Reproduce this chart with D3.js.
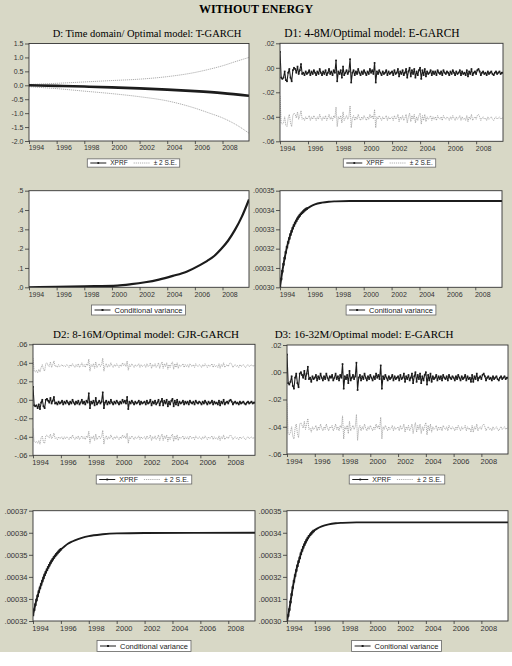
<!DOCTYPE html>
<html>
<head>
<meta charset="utf-8">
<script src="https://cdn.jsdelivr.net/npm/d3@7"></script>
<style>
body { margin: 0; background: #fff; }
svg { display: block; }
</style>
</head>
<body>
<script>
// monthly sample 1994M01 .. 2009M12
const firstObs = 1994;
const lastObs = 2009 + 11 / 12;
const yearTicks = [1994, 1996, 1998, 2000, 2002, 2004, 2006, 2008];

// D: time domain forecast (smooth), dates in years
const dXprfDates = [1994, 1996, 1998, 2000, 2002, 2004, 2006, 2008, 2009.917];
const dXprf = [0, -0.02, -0.045, -0.075, -0.11, -0.155, -0.21, -0.28, -0.375];
const dBandDates = [1994, 1996, 1998, 2000, 2002, 2004, 2006, 2007, 2008, 2009, 2009.917];
const dUpper = [0.03, 0.07, 0.12, 0.17, 0.22, 0.31, 0.46, 0.57, 0.70, 0.86, 1.0];
const dLower = [-0.05, -0.12, -0.21, -0.30, -0.41, -0.56, -0.82, -0.99, -1.17, -1.42, -1.72];
const dCvDates = [1994, 1996, 1998, 2000.4, 2001.4, 2002.4, 2003.4, 2004.4, 2005.4, 2006.4, 2006.9, 2007.4, 2007.9, 2008.4, 2008.9, 2009.4, 2009.917];
const dCv = [0.0002, 0.002, 0.005, 0.009, 0.016, 0.026, 0.040, 0.059, 0.081, 0.116, 0.137, 0.162, 0.198, 0.241, 0.297, 0.366, 0.455];

// D1, D2, D3 forecasts: monthly values in thousandths
const d1Xprf = [
  13, -8, -9, -8, -3, -10, -11, -4, -1, -8, -11, -2,
  0, -1, -4, 1, -5, -2, 3, -5, -4, -6, -3, -5,
  -4, -2, -6, -3, -5, -2, -4, -6, -3, -5, -1, -4,
  -6, -3, -5, -2, -6, -4, -1, -5, -3, -6, -2, -4,
  6, -11, -3, -5, -2, -8, 1, -6, -4, -2, -5, -3,
  7, -12, -4, -2, -6, -3, -5, -1, -4, -6, -3, -5,
  -2, -4, -6, -3, -5, -1, -4, -2, -5, 4, -12, -3,
  -5, -2, -4, -6, -3, -5, -4, -2, -6, -3, -5, -4,
  -3, -6, -2, -5, -4, -1, -7, -3, -5, -2, -6, -4,
  -1, -8, -3, 0, -7, -2, -5, -1, -8, -3, -6, -2,
  0, -9, -2, -6, -1, -7, -3, -5, -4, -2, -6, -3,
  -5, -3, -6, -2, -4, -5, -3, -6, -2, -4, -5, -3,
  -4, -6, -3, -5, -2, -4, -6, -3, -5, -4, -2, -6,
  -3, -5, -4, -6, -2, -7, -3, -5, -1, -6, -4, -3,
  -5, -2, -1, -3, -6, -4, -3, -5, -4, -6, -3, -5,
  -4, -3, -5, -6, -4, -3, -5, -4, -3, -5, -4, -4
];
const d1Lower = [
  -23, -45, -46, -45, -40, -47, -48, -41, -38, -45, -48, -39,
  -37, -38, -41, -36, -42, -39, -35, -42, -41, -43, -40, -42,
  -41, -39, -43, -40, -42, -39, -41, -43, -40, -42, -38, -41,
  -43, -40, -42, -39, -43, -41, -38, -42, -40, -43, -39, -41,
  -32, -48, -40, -42, -39, -45, -36, -43, -41, -39, -42, -40,
  -31, -49, -41, -39, -43, -40, -42, -38, -41, -43, -40, -42,
  -39, -41, -43, -40, -42, -38, -41, -39, -42, -34, -49, -40,
  -42, -39, -41, -43, -40, -42, -41, -39, -43, -40, -42, -41,
  -40, -43, -39, -42, -41, -38, -44, -40, -42, -39, -43, -41,
  -38, -45, -40, -37, -44, -39, -42, -38, -45, -40, -43, -39,
  -37, -46, -39, -43, -38, -44, -40, -42, -41, -39, -43, -40,
  -42, -40, -43, -39, -41, -42, -40, -43, -39, -41, -42, -40,
  -41, -43, -40, -42, -39, -41, -43, -40, -42, -41, -39, -43,
  -40, -42, -41, -43, -39, -44, -40, -42, -38, -43, -41, -40,
  -42, -39, -38, -40, -43, -41, -40, -42, -41, -43, -40, -42,
  -41, -40, -42, -43, -41, -40, -42, -41, -40, -42, -41, -41
];
const d2Xprf = [
  14, -6, -7, -6, -9, -5, -10, -3, 0, -7, -9, 0,
  1, -1, -3, 2, -4, -1, 3, -4, -3, -5, -2, -4,
  -3, -1, -5, -2, -4, -1, -3, -5, -2, -4, 0, -3,
  -5, -2, -4, -1, -5, -3, 0, -4, -2, -5, -1, -3,
  7, -9, -2, -4, -1, -6, 2, -5, -3, -1, -4, -2,
  8, -9, -3, -1, -5, -2, -4, 0, -3, -5, -2, -4,
  -1, -3, -5, -2, -4, 0, -3, -1, -4, 3, -10, -2,
  -4, -1, -3, -5, -2, -4, -3, -1, -5, -2, -4, -3,
  -2, -5, -1, -4, -3, 0, -6, -2, -4, -1, -5, -3,
  0, -6, -2, 1, -6, -1, -4, 0, -7, -2, -5, -1,
  1, -7, -1, -5, 0, -6, -2, -4, -3, -1, -5, -2,
  -4, -2, -5, -1, -3, -4, -2, -5, -1, -3, -4, -2,
  -3, -5, -2, -4, -1, -3, -5, -2, -4, -3, -1, -5,
  -2, -4, -3, -5, -1, -6, -2, -4, 0, -5, -3, -2,
  -4, -1, 0, -2, -5, -3, -2, -4, -3, -5, -2, -4,
  -3, -2, -4, -5, -3, -2, -4, -3, -2, -4, -3, -3
];
const d2Upper = [
  45, 31, 30, 32, 29, 33, 30, 35, 38, 33, 31, 39,
  40, 37, 36, 41, 35, 38, 42, 36, 37, 35, 38, 36,
  37, 38, 36, 37, 36, 38, 37, 35, 38, 36, 39, 37,
  35, 38, 36, 39, 35, 37, 40, 36, 38, 35, 39, 37,
  44, 31, 38, 36, 39, 34, 41, 35, 37, 39, 36, 38,
  45, 31, 37, 39, 35, 38, 36, 40, 37, 35, 38, 36,
  39, 37, 35, 38, 36, 40, 37, 39, 36, 42, 32, 38,
  36, 39, 37, 35, 38, 36, 37, 39, 35, 38, 36, 37,
  38, 35, 39, 36, 37, 40, 34, 38, 36, 39, 35, 37,
  40, 34, 38, 41, 34, 39, 36, 40, 33, 38, 35, 39,
  41, 33, 39, 35, 40, 34, 38, 36, 37, 39, 35, 38,
  36, 38, 35, 39, 37, 36, 38, 35, 39, 37, 36, 38,
  37, 35, 38, 36, 39, 37, 35, 38, 36, 37, 39, 35,
  38, 36, 37, 35, 39, 34, 38, 36, 40, 35, 37, 38,
  36, 39, 40, 38, 35, 37, 38, 36, 37, 35, 38, 36,
  37, 38, 36, 35, 37, 38, 36, 37, 38, 36, 37, 37
];
const d2Lower = [
  -31, -45, -46, -45, -47, -44, -48, -41, -39, -46, -47, -39,
  -38, -40, -41, -37, -42, -40, -36, -42, -41, -43, -40, -42,
  -41, -40, -43, -40, -42, -40, -41, -43, -40, -42, -38, -41,
  -43, -40, -42, -39, -43, -41, -39, -42, -40, -43, -39, -41,
  -34, -47, -40, -42, -39, -44, -37, -43, -41, -39, -42, -40,
  -33, -48, -41, -39, -43, -40, -42, -38, -41, -43, -40, -42,
  -39, -41, -43, -40, -42, -38, -41, -39, -42, -36, -47, -40,
  -42, -39, -41, -43, -40, -42, -41, -39, -43, -40, -42, -41,
  -40, -43, -39, -42, -41, -38, -44, -40, -42, -39, -43, -41,
  -38, -44, -40, -37, -44, -39, -42, -38, -45, -40, -43, -39,
  -37, -45, -39, -43, -38, -44, -40, -42, -41, -39, -43, -40,
  -42, -40, -43, -39, -41, -42, -40, -43, -39, -41, -42, -40,
  -41, -43, -40, -42, -39, -41, -43, -40, -42, -41, -39, -43,
  -40, -42, -41, -43, -39, -44, -40, -42, -38, -43, -41, -40,
  -42, -39, -38, -40, -43, -41, -40, -42, -41, -43, -40, -42,
  -41, -40, -42, -43, -41, -40, -42, -41, -40, -42, -41, -41
];
const d3Xprf = [
  13, -8, -9, -7, -3, -10, -12, -4, -1, -8, -11, -1,
  0, -2, -4, 1, -5, -1, 4, -5, -4, -7, -3, -5,
  -4, -2, -6, -3, -5, -1, -4, -6, -3, -5, -1, -4,
  -6, -3, -4, -2, -6, -4, -1, -5, -3, -6, -2, -4,
  6, -12, -3, -5, -2, -8, 1, -6, -4, -2, -5, -3,
  7, -13, -4, -2, -6, -3, -5, -1, -4, -6, -3, -5,
  -2, -4, -6, -3, -5, -1, -4, -2, -5, 5, -12, -3,
  -5, -2, -4, -6, -3, -5, -4, -2, -6, -3, -5, -4,
  -3, -6, -2, -5, -4, -1, -7, -3, -5, -2, -6, -4,
  -1, -8, -3, 0, -7, -2, -5, -1, -8, -3, -6, -2,
  0, -9, -2, -6, -1, -7, -3, -5, -4, -2, -6, -3,
  -5, -3, -6, -2, -4, -5, -3, -6, -2, -4, -5, -3,
  -4, -6, -3, -5, -2, -4, -6, -3, -5, -4, -2, -6,
  -3, -5, -4, -7, -2, -7, -3, -5, -1, -6, -4, -3,
  -5, -2, -1, -3, -6, -4, -3, -5, -4, -6, -3, -5,
  -4, -3, -5, -6, -4, -3, -5, -4, -3, -5, -4, -4
];
const d3Lower = [
  -23, -45, -46, -44, -40, -47, -49, -41, -38, -45, -48, -38,
  -37, -39, -41, -36, -42, -38, -34, -42, -41, -44, -40, -42,
  -41, -39, -43, -40, -42, -38, -41, -43, -40, -42, -38, -41,
  -43, -40, -41, -39, -43, -41, -38, -42, -40, -43, -39, -41,
  -32, -49, -40, -42, -39, -45, -36, -43, -41, -39, -42, -40,
  -31, -50, -41, -39, -43, -40, -42, -38, -41, -43, -40, -42,
  -39, -41, -43, -40, -42, -38, -41, -39, -42, -33, -49, -40,
  -42, -39, -41, -43, -40, -42, -41, -39, -43, -40, -42, -41,
  -40, -43, -39, -42, -41, -38, -44, -40, -42, -39, -43, -41,
  -38, -45, -40, -37, -44, -39, -42, -38, -45, -40, -43, -39,
  -37, -46, -39, -43, -38, -44, -40, -42, -41, -39, -43, -40,
  -42, -40, -43, -39, -41, -42, -40, -43, -39, -41, -42, -40,
  -41, -43, -40, -42, -39, -41, -43, -40, -42, -41, -39, -43,
  -40, -42, -41, -44, -39, -44, -40, -42, -38, -43, -41, -40,
  -42, -39, -38, -40, -43, -41, -40, -42, -41, -43, -40, -42,
  -41, -40, -42, -43, -41, -40, -42, -41, -40, -42, -41, -41
];

// conditional variances: month index from 1994M01, values in 1e-6
const cvMonths = [0, 1, 2, 3, 4, 5, 6, 7, 8, 9, 10, 11, 12, 13, 14, 15, 16, 17, 18, 19, 20, 21, 22, 23, 26, 30, 36, 42, 48, 60, 84, 120, 191];
const cvD1 = [300.0, 304.3, 308.3, 311.9, 315.1, 318.1, 320.8, 323.2, 325.3, 327.3, 329.0, 330.6, 332.0, 333.3, 334.4, 335.5, 336.4, 337.2, 338.0, 338.6, 339.2, 339.8, 340.3, 340.7, 341.8, 342.9, 343.8, 344.3, 344.5, 344.7, 344.7, 344.7, 344.7];
const cvD3 = [300.0, 302.5, 305.2, 308.6, 312.0, 315.2, 318.0, 320.6, 322.9, 325.0, 326.9, 328.6, 330.5, 332.0, 333.4, 334.6, 335.7, 336.7, 337.6, 338.4, 339.1, 339.7, 340.3, 340.8, 341.9, 342.9, 343.8, 344.3, 344.5, 344.7, 344.7, 344.7, 344.7];
const cvD2Months = [0, 1, 2, 3, 4, 5, 6, 7, 8, 9, 10, 11, 12, 13, 14, 15, 16, 17, 18, 19, 20, 21, 22, 23, 24, 27, 30, 33, 36, 42, 48, 60, 72, 96, 191];
const cvD2 = [322.7, 325.1, 327.4, 329.5, 331.4, 333.3, 335.0, 336.6, 338.1, 339.5, 340.9, 342.1, 343.2, 344.3, 345.3, 346.3, 347.2, 348.0, 348.8, 349.5, 350.2, 350.8, 351.4, 352.0, 352.5, 353.8, 355.0, 355.9, 356.6, 357.7, 358.5, 359.3, 359.7, 359.9, 360.0];

const yTicksD = [-2, -1.5, -1, -0.5, 0, 0.5, 1, 1.5];
const yTicksNarrow = [-0.06, -0.04, -0.02, 0, 0.02];
const yTicksWide = [-0.06, -0.04, -0.02, 0, 0.02, 0.04, 0.06];
const yTicksCvD = [0, 0.1, 0.2, 0.3, 0.4, 0.5];
const yTicksCv30 = [0.0003, 0.00031, 0.00032, 0.00033, 0.00034, 0.00035];
const yTicksCv32 = [0.00032, 0.00033, 0.00034, 0.00035, 0.00036, 0.00037];

const serif = 'Liberation Serif, Times New Roman, serif';
const sans = 'Liberation Sans, Arial, sans-serif';
const lineColor = '#1c1c1c';
const bandColor = '#9a9a9a';

const svg = d3.select('body').append('svg')
    .attr('width', 512)
    .attr('height', 666);

svg.append('rect')
    .attr('width', 512)
    .attr('height', 652)
    .attr('fill', '#d8d8c6');

svg.append('text')
    .attr('x', 256)
    .attr('y', 13)
    .attr('text-anchor', 'middle')
    .attr('font-family', serif)
    .attr('font-weight', 'bold')
    .attr('font-size', 12)
    .text('WITHOUT ENERGY');

const monthly = (vals, k) => vals.map((v, i) => ({t: firstObs + i / 12, v: v * k}));
const dated = (dates, vals, k) => vals.map((v, i) => ({t: dates[i], v: v * k}));
const fromMonths = (months, vals, k) => vals.map((v, i) => ({t: firstObs + months[i] / 12, v: v * k, monthly: months[i] < 26}));

const fmtPlain = d => d.toFixed(1);
const fmtDot = digits => d => d.toFixed(digits).replace('0.', '.');

let clipCount = 0;

function panel(p) {
    const x = d3.scaleLinear().domain([firstObs, lastObs]).range([p.x0, p.x1]);
    const y = d3.scaleLinear().domain(p.yDomain).range([p.y1, p.y0]);
    const g = svg.append('g');

    g.append('rect')
        .attr('x', p.x0).attr('y', p.y0)
        .attr('width', p.x1 - p.x0).attr('height', p.y1 - p.y0)
        .attr('fill', '#fff');

    const id = 'clip' + (clipCount++);
    g.append('clipPath').attr('id', id)
        .append('rect')
        .attr('x', p.x0).attr('y', p.y0)
        .attr('width', p.x1 - p.x0).attr('height', p.y1 - p.y0);
    const body = g.append('g').attr('clip-path', 'url(#' + id + ')');

    p.series.forEach(s => {
        const line = d3.line().x(d => x(d.t)).y(d => y(d.v));
        if (s.smooth) line.curve(d3.curveMonotoneX);
        body.append('path')
            .datum(s.data)
            .attr('d', line)
            .attr('fill', 'none')
            .attr('stroke', s.color)
            .attr('stroke-width', s.width)
            .attr('stroke-linejoin', 'round')
            .attr('stroke-dasharray', s.dash || null);
        if (s.marker) {
            body.selectAll(null)
                .data(s.data.filter(d => d.monthly !== false))
                .join('rect')
                .attr('x', d => x(d.t) - s.marker / 2)
                .attr('y', d => y(d.v) - s.marker / 2)
                .attr('width', s.marker)
                .attr('height', s.marker)
                .attr('fill', s.color);
        }
    });

    g.append('rect')
        .attr('x', p.x0).attr('y', p.y0)
        .attr('width', p.x1 - p.x0).attr('height', p.y1 - p.y0)
        .attr('fill', 'none')
        .attr('stroke', '#333')
        .attr('stroke-width', 0.9);

    const yAxis = d3.axisLeft(y)
        .tickValues(p.yTicks)
        .tickSize(4)
        .tickPadding(1.5)
        .tickFormat(p.fmt);
    const ya = g.append('g')
        .attr('transform', 'translate(' + p.x0 + ',0)')
        .call(yAxis);
    ya.select('.domain').remove();

    const xAxis = d3.axisBottom(x)
        .tickValues(yearTicks)
        .tickSize(3)
        .tickPadding(1.5)
        .tickFormat(d3.format('d'));
    const xa = g.append('g')
        .attr('transform', 'translate(0,' + p.y1 + ')')
        .call(xAxis);
    xa.select('.domain').remove();
    xa.selectAll('text').attr('dx', (x(1995) - x(1994)) * 0.5);

    [ya, xa].forEach(a => {
        a.attr('font-family', sans).attr('font-size', p.tickFont);
        a.selectAll('line').attr('stroke', '#333').attr('stroke-width', 0.8);
        a.selectAll('text').attr('fill', '#333');
    });

    if (p.title) {
        g.append('text')
            .attr('x', p.titleX)
            .attr('y', p.titleY)
            .attr('text-anchor', 'middle')
            .attr('font-family', serif)
            .attr('font-size', p.titleSize)
            .text(p.title);
    }

    legend(p.legend);
}

function legend(l) {
    const g = svg.append('g');
    const box = g.append('rect')
        .attr('fill', '#fff')
        .attr('stroke', '#666')
        .attr('stroke-width', 0.8);
    const inner = g.append('g');
    let cur = 3;
    l.items.forEach((it, i) => {
        if (i > 0) cur += 6;
        inner.append('line')
            .attr('x1', cur).attr('x2', cur + 16)
            .attr('y1', 0).attr('y2', 0)
            .attr('stroke', it.color)
            .attr('stroke-width', it.width)
            .attr('stroke-dasharray', it.dash || null);
        if (it.marker) {
            inner.append('rect')
                .attr('x', cur + 8 - it.marker / 2).attr('y', -it.marker / 2)
                .attr('width', it.marker).attr('height', it.marker)
                .attr('fill', it.color);
        }
        cur += 20;
        const t = inner.append('text')
            .attr('x', cur)
            .attr('y', l.font * 0.35)
            .attr('font-family', sans)
            .attr('font-size', l.font)
            .attr('fill', '#222')
            .text(it.label);
        cur += t.node().getComputedTextLength();
    });
    cur += 3;
    const left = l.cx - cur / 2;
    inner.attr('transform', 'translate(' + left + ',' + l.cy + ')');
    box.attr('x', left).attr('y', l.cy - l.h / 2).attr('width', cur).attr('height', l.h);
}

const xprfItems = [
    {label: 'XPRF', color: lineColor, width: 1, marker: 1.8},
    {label: '\u00b1 2 S.E.', color: bandColor, width: 0.8, dash: '1.2,0.9'}
];
const cvItem = label => [{label: label, color: lineColor, width: 1, marker: 2}];

const xprfSeries = (vals, k) => ({data: monthly(vals, k), color: lineColor, width: 1.1, marker: 1.7});
const bandSeries = (vals, k) => ({data: monthly(vals, k), color: bandColor, width: 0.8, dash: '1.2,0.8'});
const cvSeries = data => ({data: data, color: lineColor, width: 1.9, marker: 2.4, smooth: true});

// row 1
panel({
    x0: 29, x1: 249, y0: 43.5, y1: 141,
    yDomain: [-2, 1.5], yTicks: yTicksD, fmt: fmtPlain, tickFont: 7,
    title: 'D: Time domain/ Optimal model: T-GARCH', titleX: 147, titleY: 37, titleSize: 10.5,
    series: [
        {data: dated(dBandDates, dUpper, 1), color: bandColor, width: 0.8, dash: '1.2,0.8', smooth: true},
        {data: dated(dBandDates, dLower, 1), color: bandColor, width: 0.8, dash: '1.2,0.8', smooth: true},
        {data: dated(dXprfDates, dXprf, 1), color: lineColor, width: 2.6, smooth: true}
    ],
    legend: {cx: 133.5, cy: 163, h: 8.3, font: 6.5, items: xprfItems}
});
panel({
    x0: 280, x1: 503, y0: 43.3, y1: 141.3,
    yDomain: [-0.06, 0.02], yTicks: yTicksNarrow, fmt: fmtDot(2), tickFont: 7,
    title: 'D1: 4-8M/Optimal model: E-GARCH', titleX: 372, titleY: 37.3, titleSize: 11.5,
    series: [bandSeries(d1Lower, 0.001), xprfSeries(d1Xprf, 0.001)],
    legend: {cx: 389.5, cy: 163, h: 8.3, font: 6.5, items: xprfItems}
});

// row 2
panel({
    x0: 29, x1: 249, y0: 190.7, y1: 287.3,
    yDomain: [0, 0.5], yTicks: yTicksCvD, fmt: fmtDot(1), tickFont: 7,
    series: [{data: dated(dCvDates, dCv, 1), color: lineColor, width: 2.2, smooth: true}],
    legend: {cx: 138.5, cy: 310, h: 10, font: 7.5, items: cvItem('Conditional variance')}
});
panel({
    x0: 280, x1: 502, y0: 190.7, y1: 287.3,
    yDomain: [0.0003, 0.00035], yTicks: yTicksCv30, fmt: fmtDot(5), tickFont: 7,
    series: [cvSeries(fromMonths(cvMonths, cvD1, 1e-6))],
    legend: {cx: 391, cy: 310, h: 10, font: 7.5, items: cvItem('Conitional variance')}
});

// row 3
panel({
    x0: 33, x1: 255, y0: 344.3, y1: 455.3,
    yDomain: [-0.06, 0.06], yTicks: yTicksWide, fmt: fmtDot(2), tickFont: 7.5,
    title: 'D2: 8-16M/Optimal model: GJR-GARCH', titleX: 146, titleY: 337.5, titleSize: 11,
    series: [bandSeries(d2Upper, 0.001), bandSeries(d2Lower, 0.001), xprfSeries(d2Xprf, 0.001)],
    legend: {cx: 144, cy: 479.5, h: 9, font: 7, items: xprfItems}
});
panel({
    x0: 287, x1: 508, y0: 345, y1: 454,
    yDomain: [-0.06, 0.02], yTicks: yTicksNarrow, fmt: fmtDot(2), tickFont: 7.5,
    title: 'D3: 16-32M/Optimal model: E-GARCH', titleX: 364, titleY: 337.5, titleSize: 11,
    series: [bandSeries(d3Lower, 0.001), xprfSeries(d3Xprf, 0.001)],
    legend: {cx: 397, cy: 479.5, h: 9, font: 7, items: xprfItems}
});

// row 4
panel({
    x0: 33, x1: 255, y0: 510.7, y1: 621,
    yDomain: [0.00032, 0.00037], yTicks: yTicksCv32, fmt: fmtDot(5), tickFont: 7.5,
    series: [cvSeries(fromMonths(cvD2Months, cvD2, 1e-6))],
    legend: {cx: 144, cy: 646, h: 11, font: 7.5, items: cvItem('Conditional variance')}
});
panel({
    x0: 287, x1: 508, y0: 510.7, y1: 621,
    yDomain: [0.0003, 0.00035], yTicks: yTicksCv30, fmt: fmtDot(5), tickFont: 7.5,
    series: [cvSeries(fromMonths(cvMonths, cvD3, 1e-6))],
    legend: {cx: 396.5, cy: 646, h: 11, font: 7.5, items: cvItem('Conitional variance')}
});
</script>
</body>
</html>
